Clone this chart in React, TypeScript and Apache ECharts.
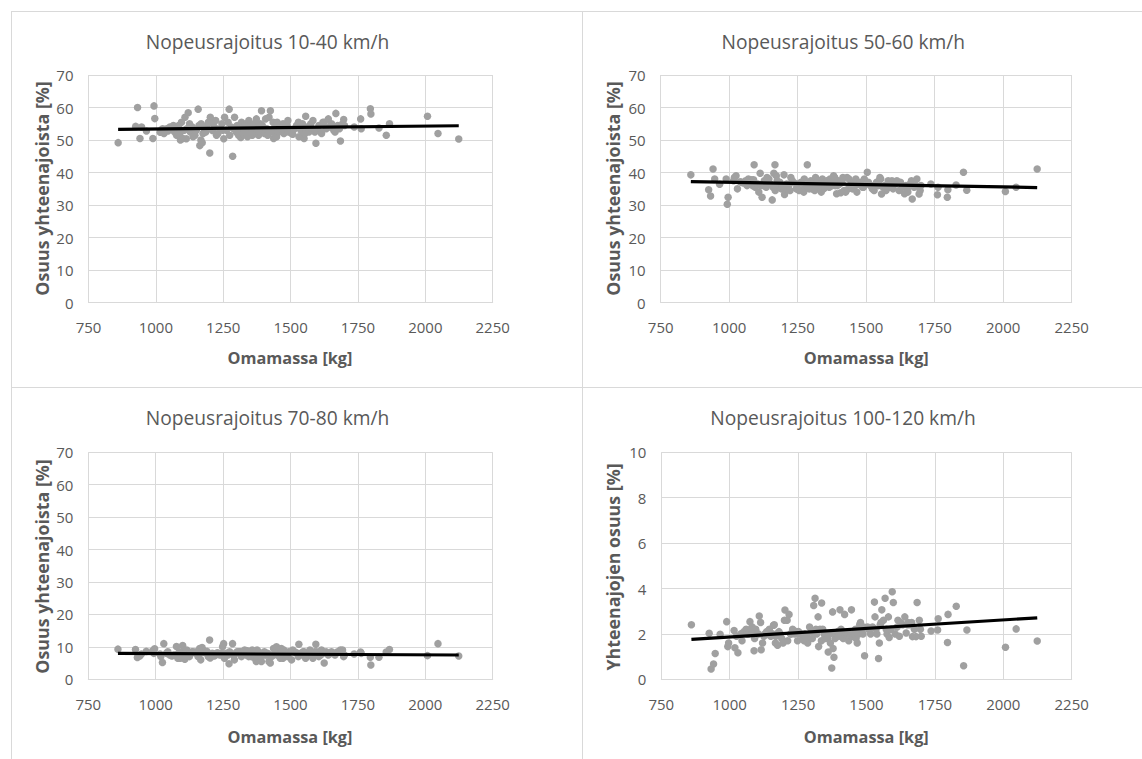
import React, { useEffect, useRef } from "react";
import * as echarts from "echarts";

const weights = [
  860, 925, 932, 941, 947, 965, 989, 993, 996, 1016,
  1019, 1025, 1030, 1040, 1045, 1052, 1060, 1065, 1070, 1074,
  1077, 1082, 1085, 1089, 1091, 1095, 1100, 1105, 1108, 1113,
  1115, 1120, 1125, 1128, 1135, 1138, 1145, 1150, 1157, 1160,
  1163, 1167, 1168, 1172, 1175, 1180, 1185, 1190, 1195, 1200,
  1202, 1210, 1212, 1217, 1222, 1225, 1230, 1238, 1245, 1248,
  1252, 1255, 1262, 1268, 1272, 1274, 1280, 1285, 1288, 1292,
  1298, 1302, 1307, 1312, 1315, 1318, 1323, 1325, 1330, 1335,
  1336, 1340, 1345, 1348, 1350, 1355, 1358, 1360, 1365, 1368,
  1373, 1376, 1378, 1381, 1385, 1387, 1392, 1395, 1398, 1403,
  1407, 1412, 1415, 1420, 1425, 1430, 1435, 1437, 1442, 1445,
  1448, 1450, 1455, 1460, 1462, 1466, 1472, 1475, 1478, 1483,
  1487, 1490, 1493, 1504, 1508, 1515, 1522, 1529, 1531, 1535,
  1538, 1544, 1547, 1550, 1553, 1556, 1562, 1568, 1572, 1575,
  1580, 1583, 1590, 1594, 1598, 1605, 1612, 1615, 1620, 1625,
  1632, 1640, 1645, 1650, 1652, 1660, 1665, 1668, 1675, 1681,
  1685, 1693, 1697, 1700, 1736, 1760, 1762, 1796, 1798, 1828,
  1855, 1867, 2008, 2047, 2124,
];

const share10to40 = [
  49.2, 54.2, 60.0, 50.5, 54.0, 52.8, 50.5, 60.5, 56.6, 52.4,
  53.0, 53.5, 52.0, 53.5, 52.8, 54.0, 53.2, 54.5, 52.5, 53.8,
  51.5, 53.0, 54.5, 52.0, 50.0, 55.5, 50.5, 53.0, 57.0, 50.4,
  53.5, 58.4, 55.0, 52.5, 54.0, 51.0, 51.5, 53.0, 59.5, 54.5,
  48.3, 50.0, 55.0, 49.2, 52.0, 53.5, 52.5, 54.5, 55.5, 46.0,
  57.0, 52.9, 55.2, 54.0, 56.0, 51.5, 52.0, 53.5, 55.0, 53.0,
  50.4, 57.0, 53.0, 55.5, 59.5, 51.5, 54.0, 45.0, 53.5, 57.0,
  52.5, 54.5, 51.5, 53.5, 50.8, 55.5, 52.0, 54.0, 53.0, 52.5,
  55.0, 51.0, 56.0, 54.5, 52.5, 54.5, 51.5, 53.0, 55.0, 53.5,
  56.5, 52.0, 54.0, 51.5, 52.5, 55.0, 59.0, 54.5, 53.0, 52.0,
  56.5, 53.5, 51.5, 57.0, 59.0, 52.5, 55.5, 50.5, 54.0, 53.0,
  51.0, 55.5, 52.5, 54.5, 53.5, 53.5, 55.0, 52.0, 53.0, 54.0,
  54.5, 56.0, 52.5, 52.0, 51.8, 53.5, 54.5, 55.5, 51.0, 53.8,
  53.0, 55.0, 52.5, 50.5, 52.0, 57.3, 54.0, 52.5, 54.5, 55.0,
  53.5, 56.0, 52.5, 49.0, 53.0, 54.5, 52.5, 52.0, 55.5, 55.5,
  53.5, 56.5, 54.0, 54.5, 55.0, 53.0, 52.5, 58.2, 54.5, 53.5,
  49.7, 55.0, 56.3, 54.5, 54.0, 56.5, 53.5, 59.6, 58.0, 53.7,
  51.5, 55.0, 57.3, 52.0, 50.3,
];

const share50to60 = [
  39.3, 34.7, 32.8, 41.1, 38.0, 36.4, 38.0, 30.3, 32.4, 37.5,
  38.5, 39.0, 35.0, 37.2, 37.0, 36.8, 37.5, 36.0, 38.0, 36.5,
  37.0, 37.8, 36.0, 37.8, 42.4, 35.5, 36.5, 36.5, 34.0, 39.8,
  36.0, 32.4, 36.0, 37.5, 35.5, 38.5, 38.0, 36.5, 31.6, 35.5,
  39.8, 42.4, 34.5, 39.0, 37.5, 36.0, 37.0, 35.0, 35.5, 39.3,
  33.3, 36.5, 35.0, 36.0, 34.5, 38.5, 37.5, 36.8, 35.0, 35.0,
  36.5, 34.5, 37.0, 34.8, 34.0, 38.0, 36.0, 42.4, 36.8, 35.0,
  37.5, 35.0, 36.8, 34.5, 38.5, 35.5, 37.0, 36.5, 36.0, 37.5,
  34.0, 38.0, 35.0, 35.5, 37.0, 36.5, 37.5, 37.5, 35.5, 38.0,
  37.5, 36.0, 38.0, 39.0, 38.5, 36.0, 33.5, 36.0, 37.5, 36.5,
  33.8, 37.0, 38.5, 34.5, 34.0, 38.5, 35.0, 38.0, 36.0, 35.5,
  36.5, 35.0, 37.0, 36.0, 38.0, 34.0, 36.5, 36.5, 37.0, 36.0,
  35.5, 35.5, 38.0, 40.1, 37.0, 36.0, 35.0, 34.5, 36.0, 36.5,
  37.0, 36.0, 37.5, 38.5, 38.0, 33.4, 35.5, 36.0, 34.5, 35.0,
  37.5, 35.5, 36.5, 37.5, 35.0, 36.5, 37.5, 37.0, 34.5, 37.0,
  35.5, 33.5, 36.0, 35.0, 34.0, 36.5, 37.5, 31.9, 35.5, 36.0,
  38.0, 33.4, 34.5, 36.0, 36.5, 33.2, 35.5, 32.4, 34.7, 36.2,
  40.1, 34.6, 34.2, 35.5, 41.1,
];

const share70to80 = [
  9.3, 9.2, 6.7, 7.2, 7.8, 8.6, 8.8, 8.0, 9.4, 7.8,
  7.0, 5.2, 11.0, 8.0, 8.5, 7.5, 7.2, 7.5, 7.5, 7.4,
  10.1, 6.5, 8.0, 8.5, 6.5, 7.0, 10.4, 8.5, 6.2, 7.5,
  9.0, 7.4, 7.0, 8.0, 8.5, 8.5, 8.2, 8.5, 7.0, 7.5,
  9.5, 6.0, 8.5, 9.8, 9.0, 8.3, 8.5, 8.6, 7.0, 12.1,
  6.6, 8.0, 7.5, 7.2, 7.5, 8.0, 8.2, 7.5, 8.0, 10.0,
  11.0, 6.5, 8.0, 7.5, 4.8, 8.5, 8.0, 11.0, 7.5, 6.0,
  8.0, 8.5, 8.5, 8.5, 8.5, 7.0, 8.3, 8.0, 9.0, 8.0,
  7.5, 8.8, 7.0, 8.0, 8.5, 7.0, 9.0, 7.5, 7.5, 6.5,
  5.5, 9.0, 6.5, 8.5, 7.0, 7.0, 5.5, 7.5, 7.5, 8.5,
  7.5, 7.5, 8.0, 5.5, 5.0, 7.0, 7.5, 9.5, 8.0, 8.5,
  10.0, 7.5, 8.5, 7.5, 6.5, 9.5, 6.5, 9.0, 7.5, 7.5,
  8.0, 7.0, 8.5, 6.0, 9.0, 8.5, 8.2, 7.0, 10.8, 7.5,
  8.0, 8.0, 8.5, 8.5, 8.0, 6.5, 7.8, 8.0, 9.0, 8.0,
  7.0, 6.5, 8.5, 10.8, 8.5, 7.0, 7.5, 9.0, 8.0, 5.0,
  8.5, 7.5, 8.0, 8.0, 8.5, 8.0, 7.5, 8.0, 8.5, 8.5,
  9.0, 9.0, 7.0, 7.5, 7.8, 8.4, 8.0, 6.8, 4.4, 6.8,
  8.4, 9.2, 7.3, 11.0, 7.2,
];

const share100to120 = [
  2.4, 2.03, 0.45, 0.67, 1.14, 1.98, 2.54, 1.44, 1.6, 2.15,
  1.39, 1.9, 1.17, 2.0, 1.7, 2.1, 2.2, 2.0, 2.0, 2.54,
  2.2, 2.3, 2.0, 1.26, 1.8, 2.2, 2.0, 2.0, 2.79, 2.5,
  1.3, 1.6, 1.9, 2.0, 2.1, 2.0, 2.2, 1.9, 2.0, 2.38,
  2.4, 1.6, 1.9, 2.0, 1.5, 2.1, 2.0, 1.8, 1.6, 2.6,
  3.05, 2.6, 1.7, 2.86, 2.0, 2.0, 2.2, 2.0, 2.1, 1.7,
  2.1, 2.0, 2.0, 1.8, 1.7, 2.0, 1.9, 1.6, 1.8, 2.3,
  2.1, 1.8, 3.25, 3.57, 2.2, 2.0, 2.75, 1.44, 2.2, 1.7,
  3.36, 2.2, 2.0, 1.8, 1.9, 2.0, 1.8, 1.2, 2.0, 1.6,
  0.5, 2.97, 1.36, 0.97, 1.8, 2.0, 2.0, 2.1, 1.9, 3.06,
  2.2, 2.0, 1.8, 2.86, 2.0, 2.0, 1.7, 2.0, 1.9, 3.06,
  1.9, 2.0, 2.0, 2.2, 1.8, 1.6, 2.0, 2.4, 2.5, 2.1,
  2.0, 2.3, 1.04, 2.3, 2.2, 2.0, 2.3, 3.4, 2.75, 2.2,
  2.0, 0.92, 1.6, 2.4, 2.5, 3.06, 2.6, 3.57, 2.2, 2.0,
  2.75, 1.84, 2.2, 3.86, 3.38, 2.0, 2.3, 2.6, 1.9, 2.5,
  2.4, 2.75, 2.04, 2.4, 2.5, 2.4, 2.5, 1.88, 2.2, 1.88,
  3.38, 2.6, 2.2, 1.9, 2.13, 2.17, 2.67, 1.62, 2.86, 3.22,
  0.6, 2.17, 1.41, 2.22, 1.69,
];

// Linear trend lines (endpoints at the smallest and largest weight)
const trendX = [860, 2124];
const trend10to40 = [53.3, 54.4];
const trend50to60 = [37.2, 35.4];
const trend70to80 = [8.0, 7.5];
const trend100to120 = [1.76, 2.71];

const titles = [
  "Nopeusrajoitus 10-40 km/h",
  "Nopeusrajoitus 50-60 km/h",
  "Nopeusrajoitus 70-80 km/h",
  "Nopeusrajoitus 100-120 km/h",
];
const yTitles = [
  "Osuus yhteenajoista [%]",
  "Osuus yhteenajoista [%]",
  "Osuus yhteenajoista [%]",
  "Yhteenajojen osuus [%]",
];
const xTitle = "Omamassa [kg]";
const xMin = 750;
const xMax = 2250;
const xStep = 250;
const yMaxes = [70, 70, 70, 10];
const ySteps = [10, 10, 10, 2];

const FONT = '"Open Sans", "Noto Sans", sans-serif';
const TEXT = "#595959";
const GRID = "#d9d9d9";
const DOT = "#a0a0a0";

// layout of the four panels
const grids = [
  { left: 88.5, top: 75, width: 404.2, height: 227.7 },
  { left: 660.7, top: 75, width: 411, height: 227.7 },
  { left: 88.3, top: 452.3, width: 404.4, height: 227 },
  { left: 661.3, top: 452.3, width: 410.4, height: 227 },
];
const titlePos = [
  [267.5, 41.7],
  [843.3, 41.7],
  [267.5, 417.7],
  [843, 417.7],
];
const yTitlePos = [
  [41.7, 188.5],
  [613.3, 188.5],
  [41.7, 566.5],
  [613.3, 567],
];
const xTitlePos = [
  [290, 358.3],
  [866.3, 358.3],
  [290, 736.7],
  [866.3, 736.7],
];

export default function App() {
  const ref = useRef<HTMLDivElement>(null);

  useEffect(() => {
    document.body.style.margin = "0";
    if (!ref.current) return;
    const chart = echarts.init(ref.current, null, { renderer: "svg" });

    const scatterSets = [share10to40, share50to60, share70to80, share100to120];
    const trendSets = [trend10to40, trend50to60, trend70to80, trend100to120];

    const xAxis = grids.map((_, i) => ({
      type: "value",
      gridIndex: i,
      min: xMin,
      max: xMax,
      interval: xStep,
      axisLine: { show: true, lineStyle: { color: GRID, width: 1 } },
      axisTick: { show: false },
      splitLine: { show: true, lineStyle: { color: GRID, width: 1 } },
      axisLabel: {
        color: TEXT,
        fontFamily: FONT,
        fontSize: 15,
        margin: 17,
        formatter: (v: number) => String(v),
      },
    }));
    const yAxis = grids.map((_, i) => ({
      type: "value",
      gridIndex: i,
      min: 0,
      max: yMaxes[i],
      interval: ySteps[i],
      axisLine: { show: false },
      axisTick: { show: false },
      splitLine: { show: true, lineStyle: { color: GRID, width: 1 } },
      axisLabel: {
        color: TEXT,
        fontFamily: FONT,
        fontSize: 15,
        margin: 15,
        formatter: (v: number) => String(v),
      },
    }));

    const series: any[] = [];
    scatterSets.forEach((ys, i) => {
      series.push({
        type: "scatter",
        xAxisIndex: i,
        yAxisIndex: i,
        symbol: "circle",
        symbolSize: 7.5,
        itemStyle: { color: DOT, opacity: 1 },
        data: weights.map((w, k) => [w, ys[k]]),
        z: 2,
      });
    });
    trendSets.forEach((ts, i) => {
      series.push({
        type: "line",
        xAxisIndex: i,
        yAxisIndex: i,
        symbol: "none",
        lineStyle: { color: "#000000", width: 3.2 },
        data: trendX.map((x, k) => [x, ts[k]]),
        z: 3,
      });
    });

    const graphic: any[] = [
      // panel borders
      { type: "line", shape: { x1: 11, y1: 11.5, x2: 1142, y2: 11.5 }, style: { stroke: GRID, lineWidth: 1 } },
      { type: "line", shape: { x1: 11.5, y1: 11, x2: 11.5, y2: 759 }, style: { stroke: GRID, lineWidth: 1 } },
      { type: "line", shape: { x1: 582.5, y1: 11, x2: 582.5, y2: 759 }, style: { stroke: GRID, lineWidth: 1 } },
      { type: "line", shape: { x1: 11, y1: 387.5, x2: 1142, y2: 387.5 }, style: { stroke: GRID, lineWidth: 1 } },
    ];
    titles.forEach((t, i) => {
      graphic.push({
        type: "text",
        x: titlePos[i][0],
        y: titlePos[i][1],
        style: {
          text: t,
          fill: TEXT,
          fontFamily: FONT,
          fontSize: 19.2,
          align: "center",
          verticalAlign: "middle",
        },
      });
      graphic.push({
        type: "text",
        x: yTitlePos[i][0],
        y: yTitlePos[i][1],
        rotation: Math.PI / 2,
        style: {
          text: yTitles[i],
          fill: TEXT,
          fontFamily: FONT,
          fontSize: 17.8,
          fontWeight: "bold",
          align: "center",
          verticalAlign: "middle",
        },
      });
      graphic.push({
        type: "text",
        x: xTitlePos[i][0],
        y: xTitlePos[i][1],
        style: {
          text: xTitle,
          fill: TEXT,
          fontFamily: FONT,
          fontSize: 16.3,
          fontWeight: "bold",
          align: "center",
          verticalAlign: "middle",
        },
      });
    });

    chart.setOption({
      animation: false,
      backgroundColor: "#ffffff",
      grid: grids.map((g) => ({ ...g, containLabel: false })),
      xAxis,
      yAxis,
      series,
      graphic,
    });

    return () => chart.dispose();
  }, []);

  return <div ref={ref} style={{ width: 1142, height: 759 }} />;
}
